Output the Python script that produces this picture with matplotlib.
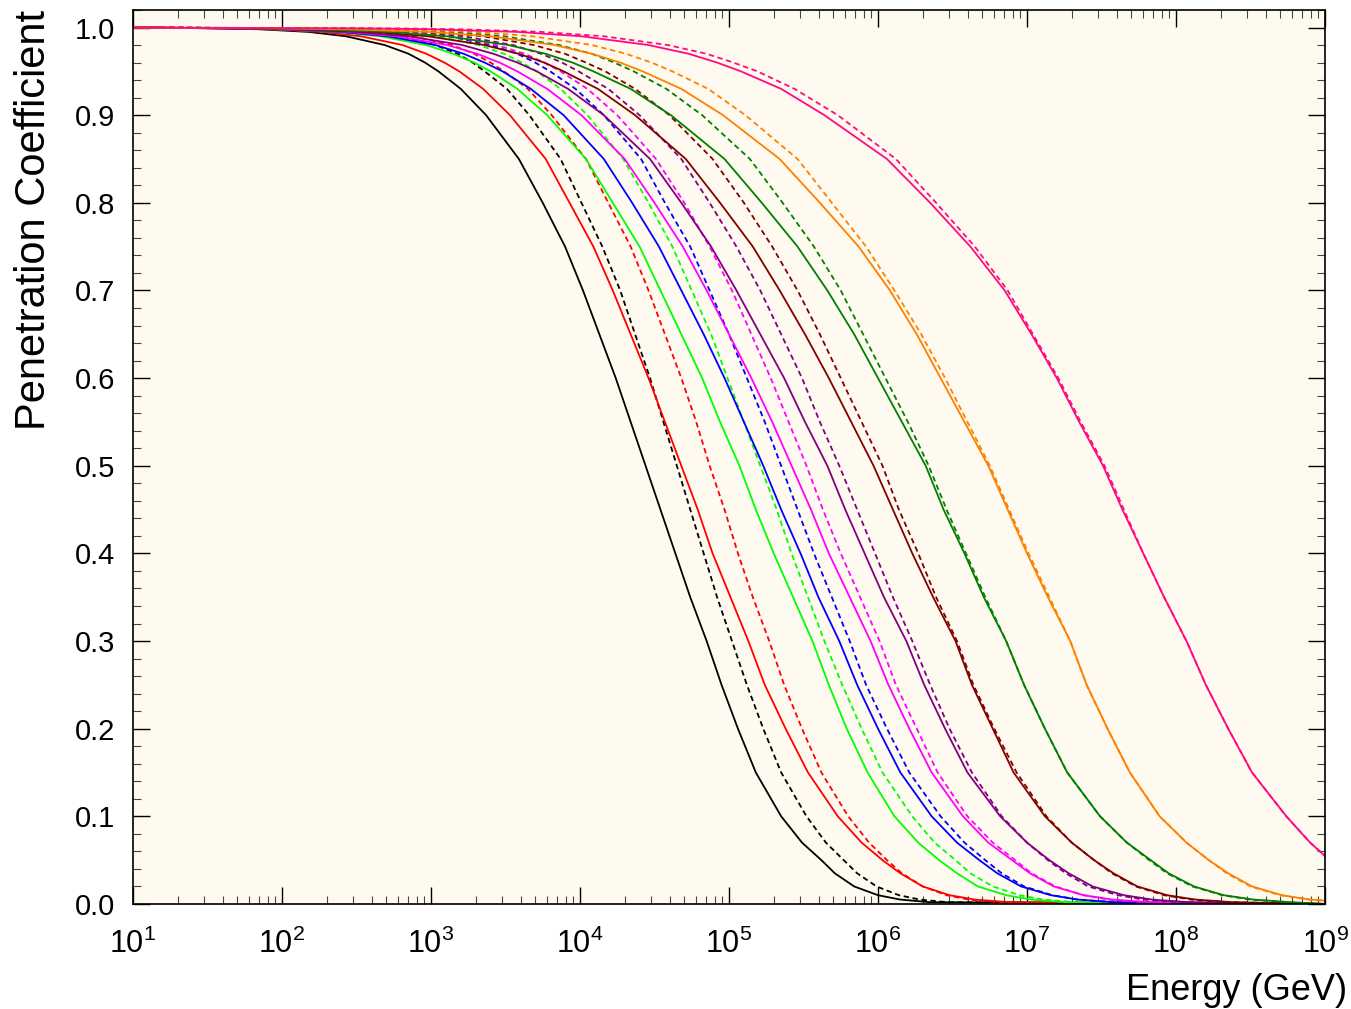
import numpy as np
import matplotlib
matplotlib.use('Agg')
import matplotlib.pyplot as plt
from matplotlib.ticker import LogLocator, MultipleLocator, FormatStrFormatter, NullFormatter

plt.rcParams['font.family'] = ['Liberation Sans', 'DejaVu Sans']
plt.rcParams['mathtext.fontset'] = 'custom'
plt.rcParams['mathtext.rm'] = 'Liberation Sans'

P_levels = [0.999, 0.998, 0.995, 0.99, 0.98, 0.97, 0.96, 0.95, 0.93, 0.9,
            0.85, 0.8, 0.75, 0.7, 0.65, 0.6, 0.55, 0.5, 0.45, 0.4, 0.35, 0.3,
            0.25, 0.2, 0.15, 0.1, 0.07, 0.05, 0.035, 0.02, 0.01, 0.005, 0.002]

# log10(Energy / GeV) where each curve crosses those levels
black_solid = [1.61, 1.85, 2.18, 2.43, 2.69, 2.85, 2.96, 3.05, 3.20, 3.37, 3.59, 3.75, 3.90, 4.02, 4.13, 4.24, 4.34,
               4.44, 4.54, 4.64, 4.74, 4.85, 4.95, 5.06, 5.18, 5.35, 5.49, 5.62, 5.71, 5.84, 6.00, 6.15, 6.35]
black_dashed = [2.03, 2.26, 2.56, 2.79, 3.03, 3.18, 3.28, 3.36, 3.51, 3.66, 3.87, 4.01, 4.15, 4.27, 4.37, 4.47, 4.56,
                4.65, 4.74, 4.83, 4.92, 5.02, 5.12, 5.23, 5.35, 5.52, 5.65, 5.77, 5.86, 5.99, 6.14, 6.28, 6.47]
red_solid = [1.65, 1.91, 2.27, 2.53, 2.81, 2.97, 3.09, 3.19, 3.35, 3.53, 3.77, 3.93, 4.09, 4.22, 4.34, 4.46, 4.57,
             4.68, 4.79, 4.89, 5.01, 5.13, 5.24, 5.38, 5.53, 5.73, 5.89, 6.03, 6.15, 6.30, 6.48, 6.65, 6.88]
red_dashed = [2.06, 2.31, 2.64, 2.88, 3.14, 3.29, 3.40, 3.49, 3.65, 3.81, 4.04, 4.19, 4.34, 4.46, 4.57, 4.68, 4.78,
              4.87, 4.97, 5.06, 5.16, 5.27, 5.37, 5.49, 5.62, 5.80, 5.94, 6.06, 6.16, 6.30, 6.46, 6.61, 6.81]
green_solid = [1.67, 1.96, 2.36, 2.66, 2.97, 3.15, 3.29, 3.40, 3.58, 3.78, 4.04, 4.22, 4.40, 4.54, 4.68, 4.82, 4.94,
               5.07, 5.18, 5.30, 5.43, 5.56, 5.67, 5.79, 5.93, 6.11, 6.27, 6.41, 6.53, 6.67, 6.86, 7.03, 7.26]
green_dashed = [2.14, 2.41, 2.77, 3.04, 3.32, 3.49, 3.61, 3.71, 3.87, 4.05, 4.29, 4.46, 4.62, 4.75, 4.88, 4.99, 5.10,
                5.21, 5.32, 5.42, 5.53, 5.64, 5.76, 5.89, 6.03, 6.23, 6.38, 6.52, 6.62, 6.77, 6.95, 7.11, 7.33]
blue_solid = [1.66, 1.98, 2.39, 2.71, 3.03, 3.22, 3.36, 3.48, 3.67, 3.89, 4.16, 4.35, 4.53, 4.68, 4.83, 4.97, 5.10,
              5.23, 5.35, 5.48, 5.60, 5.74, 5.86, 6.00, 6.15, 6.36, 6.53, 6.68, 6.80, 6.96, 7.16, 7.34, 7.59]
blue_dashed = [2.19, 2.47, 2.84, 3.12, 3.40, 3.58, 3.70, 3.80, 3.97, 4.16, 4.41, 4.57, 4.74, 4.87, 5.00, 5.12, 5.24,
               5.35, 5.46, 5.57, 5.69, 5.81, 5.92, 6.06, 6.21, 6.42, 6.58, 6.72, 6.83, 6.98, 7.17, 7.34, 7.58]
magenta_solid = [1.67, 2.00, 2.44, 2.77, 3.11, 3.31, 3.46, 3.58, 3.78, 4.01, 4.30, 4.50, 4.69, 4.85, 5.00, 5.15, 5.29,
                 5.42, 5.55, 5.67, 5.81, 5.95, 6.07, 6.21, 6.36, 6.57, 6.74, 6.90, 7.02, 7.18, 7.38, 7.57, 7.82]
magenta_dashed = [2.16, 2.45, 2.84, 3.14, 3.44, 3.63, 3.76, 3.87, 4.05, 4.25, 4.51, 4.70, 4.87, 5.02, 5.15, 5.28, 5.40,
                  5.52, 5.63, 5.75, 5.88, 6.01, 6.12, 6.26, 6.40, 6.60, 6.77, 6.92, 7.03, 7.19, 7.38, 7.55, 7.79]
purple_solid = [1.69, 2.04, 2.50, 2.85, 3.21, 3.42, 3.58, 3.71, 3.92, 4.16, 4.47, 4.68, 4.88, 5.05, 5.21, 5.37, 5.51,
                5.66, 5.78, 5.91, 6.04, 6.19, 6.31, 6.45, 6.60, 6.82, 7.00, 7.15, 7.28, 7.44, 7.65, 7.84, 8.09]
purple_dashed = [2.18, 2.50, 2.91, 3.22, 3.55, 3.74, 3.88, 3.99, 4.19, 4.40, 4.68, 4.87, 5.05, 5.21, 5.35, 5.49, 5.61,
                 5.74, 5.86, 5.98, 6.10, 6.23, 6.35, 6.48, 6.63, 6.83, 7.00, 7.14, 7.26, 7.41, 7.61, 7.78, 8.02]
maroon_solid = [1.74, 2.11, 2.61, 2.98, 3.36, 3.59, 3.76, 3.89, 4.12, 4.37, 4.71, 4.94, 5.16, 5.34, 5.51, 5.67, 5.82,
                5.97, 6.10, 6.23, 6.37, 6.52, 6.63, 6.77, 6.91, 7.12, 7.30, 7.45, 7.58, 7.74, 7.94, 8.13, 8.38]
maroon_dashed = [2.24, 2.57, 3.01, 3.35, 3.69, 3.90, 4.04, 4.17, 4.37, 4.60, 4.89, 5.10, 5.29, 5.46, 5.61, 5.75, 5.89,
                 6.03, 6.14, 6.27, 6.39, 6.53, 6.64, 6.78, 6.93, 7.13, 7.30, 7.45, 7.57, 7.73, 7.92, 8.10, 8.35]
dkgreen_solid = [1.79, 2.19, 2.71, 3.11, 3.52, 3.77, 3.95, 4.09, 4.34, 4.61, 4.97, 5.22, 5.46, 5.66, 5.84, 6.00, 6.16,
                 6.32, 6.44, 6.58, 6.71, 6.86, 6.98, 7.12, 7.27, 7.49, 7.67, 7.83, 7.95, 8.12, 8.32, 8.52, 8.77]
dkgreen_dashed = [2.32, 2.67, 3.14, 3.49, 3.86, 4.08, 4.23, 4.36, 4.58, 4.82, 5.14, 5.36, 5.57, 5.75, 5.90, 6.05, 6.20,
                  6.34, 6.46, 6.59, 6.72, 6.86, 6.98, 7.12, 7.27, 7.49, 7.67, 7.82, 7.94, 8.11, 8.31, 8.50, 8.75]
orange_solid = [2.02, 2.43, 2.98, 3.40, 3.83, 4.08, 4.27, 4.42, 4.68, 4.96, 5.34, 5.61, 5.87, 6.08, 6.26, 6.42, 6.58,
                6.74, 6.87, 7.00, 7.14, 7.29, 7.40, 7.54, 7.69, 7.89, 8.07, 8.22, 8.35, 8.51, 8.71, 8.90, 9.16]
orange_dashed = [2.41, 2.79, 3.30, 3.68, 4.08, 4.31, 4.48, 4.62, 4.86, 5.11, 5.46, 5.69, 5.92, 6.11, 6.29, 6.45, 6.60,
                 6.75, 6.88, 7.01, 7.15, 7.29, 7.40, 7.54, 7.69, 7.89, 8.07, 8.22, 8.34, 8.50, 8.70, 8.89, 9.14]
pink_solid = [2.57, 3.00, 3.58, 4.01, 4.46, 4.73, 4.92, 5.08, 5.35, 5.64, 6.06, 6.35, 6.62, 6.85, 7.03, 7.20, 7.35,
              7.51, 7.64, 7.78, 7.92, 8.07, 8.20, 8.35, 8.51, 8.74, 8.90, 9.03, 9.20, 9.40, 9.60, 9.80, 10.00]
pink_dashed = [2.77, 3.19, 3.74, 4.16, 4.59, 4.85, 5.03, 5.19, 5.44, 5.73, 6.12, 6.39, 6.65, 6.87, 7.04, 7.21, 7.36,
               7.52, 7.65, 7.78, 7.92, 8.07, 8.20, 8.35, 8.51, 8.74, 8.90, 9.03, 9.20, 9.40, 9.60, 9.80, 10.00]

colors = ['black', '#ff0000', '#00ff00', '#0000ff', '#ff00ff',
          '#800080', '#800000', '#007f00', '#ff8000', '#ff0a80']
solids = [black_solid, red_solid, green_solid, blue_solid, magenta_solid,
          purple_solid, maroon_solid, dkgreen_solid, orange_solid, pink_solid]
dashes = [black_dashed, red_dashed, green_dashed, blue_dashed, magenta_dashed,
          purple_dashed, maroon_dashed, dkgreen_dashed, orange_dashed, pink_dashed]

fig = plt.figure(figsize=(13.51, 10.09), dpi=100)
ax = fig.add_axes([0.0984, 0.1041, 0.8824, 0.886])
ax.set_facecolor('#fffaef')


def curve(logE):
    # flat at 1 from 10 GeV, down to zero at 1e9 GeV
    x = [1.0] + list(logE)
    y = [1.0] + P_levels
    if logE[-1] < 9:
        x.append(9.0)
        y.append(0.0)
    return 10 ** np.array(x), y


for col, s, d in zip(colors, solids, dashes):
    xs, ys = curve(s)
    ax.plot(xs, ys, color=col, lw=1.3, solid_joinstyle='round')
    xd, yd = curve(d)
    ax.plot(xd, yd, color=col, lw=1.3, ls=(0, (3, 2)))

ax.set_xscale('log')
ax.set_xlim(1e1, 1e9)
ax.set_ylim(0, 1.02)

ax.set_xticks([10.0 ** k for k in range(1, 10)])
ax.xaxis.set_minor_locator(LogLocator(base=10, subs=np.arange(2, 10), numticks=100))
ax.xaxis.set_minor_formatter(NullFormatter())
ax.yaxis.set_major_locator(MultipleLocator(0.1))
ax.yaxis.set_minor_locator(MultipleLocator(0.02))
ax.yaxis.set_major_formatter(FormatStrFormatter('%.1f'))

ax.tick_params(which='both', direction='in', top=True, right=True)
ax.tick_params(which='major', length=12, width=1.0, color='black')
ax.tick_params(which='minor', length=6, width=0.8, color='#444444')
ax.tick_params(axis='y', which='major', labelsize=21, pad=13)
ax.tick_params(axis='x', which='major', labelsize=22, pad=18)
for sp in ax.spines.values():
    sp.set_linewidth(1.2)

fig.text(0.997, 0.001, 'Energy (GeV)', fontsize=26, ha='right', va='bottom')
fig.text(0.025, 0.99, 'Penetration Coefficient', fontsize=30, rotation=90,
         ha='center', va='top')

fig.savefig('out.png', dpi=100, facecolor='white')
